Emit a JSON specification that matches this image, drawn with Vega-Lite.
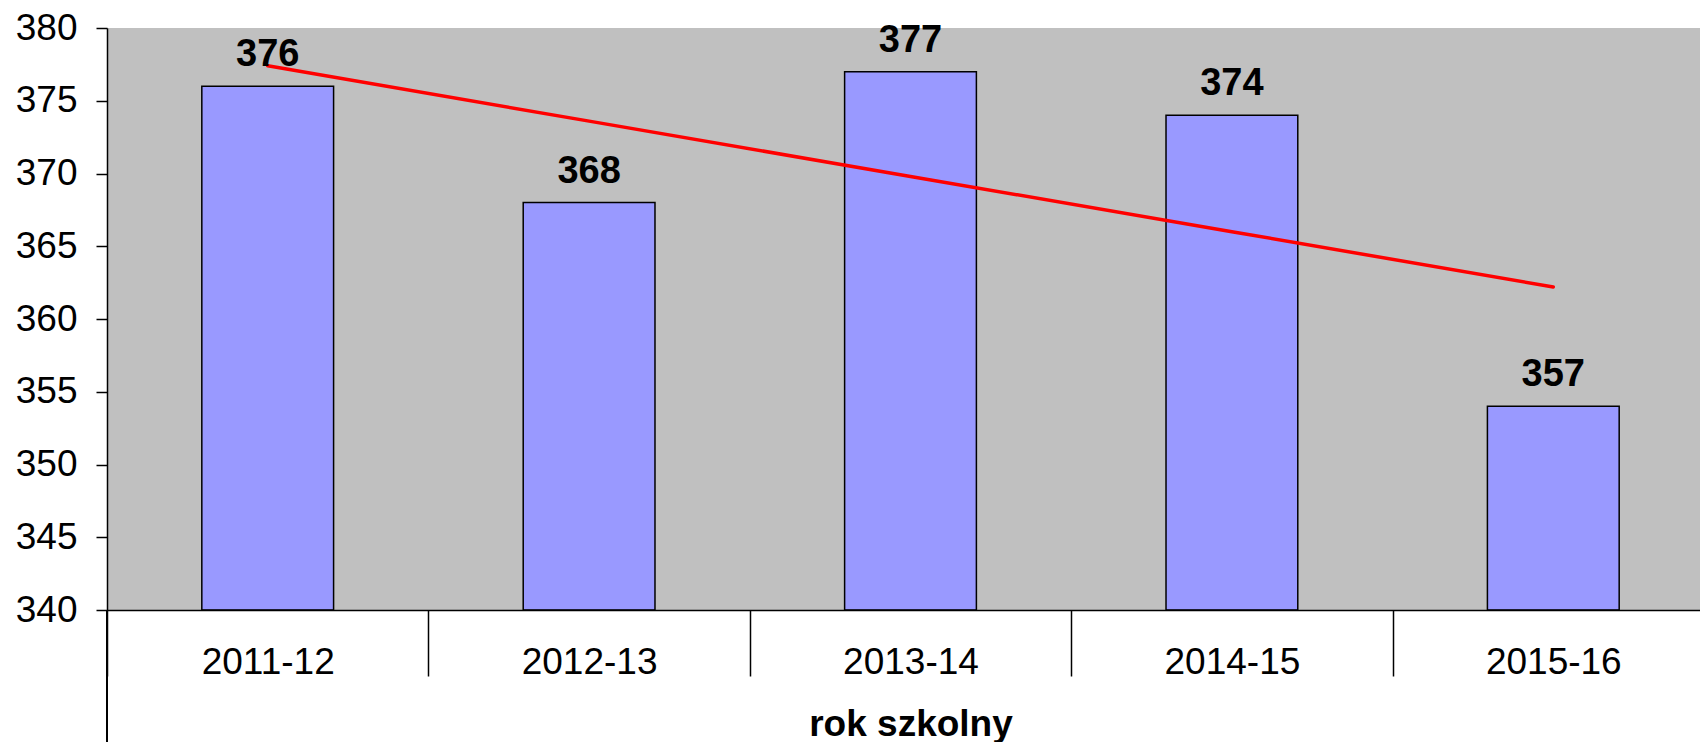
{
  "$schema": "https://vega.github.io/schema/vega-lite/v6.json",
  "autosize": {"type": "none"},
  "width": 1593,
  "height": 582,
  "padding": {"left": 107, "top": 28, "right": 0, "bottom": 132},
  "background": "white",
  "config": {
    "view": {"fill": "#C0C0C0", "stroke": null},
    "font": "Liberation Sans",
    "axis": {"grid": false, "domainColor": "black", "tickColor": "black", "labelColor": "black", "titleColor": "black", "labelFont": "Liberation Sans", "titleFont": "Liberation Sans"}
  },
  "data": {
    "values": [
      {"rok": "2011-12", "value": 376, "label": "376", "trend": 377.4},
      {"rok": "2012-13", "value": 368, "label": "368", "trend": 373.6},
      {"rok": "2013-14", "value": 377, "label": "377", "trend": 369.8},
      {"rok": "2014-15", "value": 374, "label": "374", "trend": 366.0},
      {"rok": "2015-16", "value": 354, "label": "357", "trend": 362.2}
    ]
  },
  "layer": [
    {
      "mark": {"type": "bar", "fill": "#9999FF", "stroke": "black", "strokeWidth": 1.5, "width": {"band": 0.41}},
      "encoding": {
        "x": {
          "field": "rok", "type": "nominal", "sort": null,
          "scale": {"range": [0, 1607], "paddingInner": 0, "paddingOuter": 0},
          "axis": {
            "title": "rok szkolny", "titleFontSize": 37, "titleFontWeight": "bold",
            "titleX": 803.5, "titleY": 125, "titleAlign": "center", "titleBaseline": "alphabetic", "titleAnchor": null,
            "labelAngle": 0, "labelFontSize": 37, "labelPadding": -32,
            "tickBand": "extent", "tickSize": 66, "tickWidth": 1.5, "domainWidth": 1.5, "zindex": 1
          }
        },
        "y": {
          "field": "value", "type": "quantitative",
          "scale": {"domain": [340, 380], "zero": false, "nice": false},
          "axis": {
            "title": null, "values": [340, 345, 350, 355, 360, 365, 370, 375, 380],
            "labelFontSize": 37, "labelPadding": 19, "tickSize": 11, "tickWidth": 1.5, "domainWidth": 1.5, "zindex": 1
          }
        },
        "y2": {"datum": 340}
      }
    },
    {
      "mark": {"type": "line", "color": "#FF0000", "strokeWidth": 3.5, "strokeCap": "round"},
      "encoding": {
        "x": {"field": "rok", "type": "nominal", "sort": null},
        "y": {"field": "trend", "type": "quantitative"}
      }
    },
    {
      "mark": {"type": "text", "fontSize": 38, "fontWeight": "bold", "color": "black", "baseline": "alphabetic", "dy": -20},
      "encoding": {
        "x": {"field": "rok", "type": "nominal", "sort": null},
        "y": {"field": "value", "type": "quantitative"},
        "text": {"field": "label"}
      }
    },
    {
      "mark": {"type": "rule", "color": "black", "strokeWidth": 1.5},
      "encoding": {
        "x": {"datum": "2011-12", "type": "nominal", "bandPosition": 0},
        "y": {"datum": 340},
        "y2": {"datum": 330.9}
      }
    }
  ]
}
